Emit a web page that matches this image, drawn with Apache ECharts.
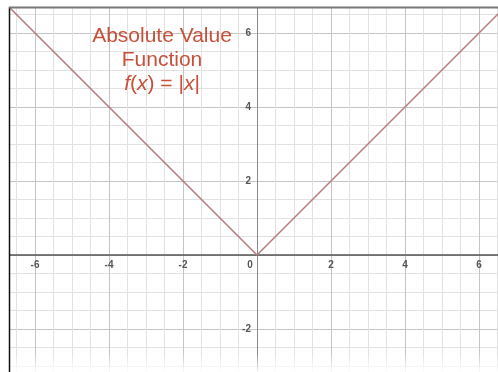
<!DOCTYPE html>
<html>
  <head>
    <meta charset="utf-8">
    <title>Absolute Value Function</title>
    <style type="text/css">
    html,body{margin:0;padding:0;background:#fff;}
    #chart{width:498px;height:372px;}
    </style>
    <script src="https://cdn.jsdelivr.net/npm/echarts@6/dist/echarts.min.js"></script>
  </head>
  <body>
    <div id="chart"></div>
    <script type="text/javascript">
      // f(x) = |x| sampled at its corner and at both ends
      var xs = [-8, 0, 8];
      var ys = [8, 0, 8];
      var xTicks = [-6, -4, -2, 0, 2, 4, 6];
      var yTicks = [-2, 2, 4, 6];

      var points = [];
      for (var i = 0; i < xs.length; i++) {
        points.push([xs[i], ys[i]]);
      }

      var titleColor = '#c8503a';
      var labelColor = '#555';
      var myChart = echarts.init(document.getElementById('chart'));
      var option = {
        animation: false,
        title: {
          text: 'Absolute Value\nFunction\n{i|f}({i|x}) = |{i|x}|',
          left: 157,
          top: 19,
          textAlign: 'center',
          textStyle: {
            color: titleColor,
            fontSize: 21,
            lineHeight: 24,
            fontWeight: 'normal',
            fontFamily: 'Liberation Sans',
            rich: {
              i: {color: titleColor, fontSize: 21, lineHeight: 24, fontStyle: 'italic', fontFamily: 'Liberation Sans'}
            }
          }
        },
        grid: {left: -39, right: -55, top: -41, bottom: -31, containLabel: false, outerBoundsMode: 'none'},
        xAxis: {
          type: 'value',
          min: -8,
          max: 8,
          interval: 2,
          position: 'bottom',
          offset: -148,
          axisLine: {onZero: false, lineStyle: {color: '#555', width: 1.5}},
          axisTick: {show: false},
          axisLabel: {
            margin: 5,
            fontSize: 10,
            fontWeight: 'bold',
            color: labelColor,
            fontFamily: 'Liberation Sans',
            formatter: function (v) {
              if (v === 0) return '{z|0}';
              return xTicks.indexOf(v) >= 0 ? String(v) : '';
            },
            rich: {z: {fontSize: 10, fontWeight: 'bold', color: labelColor, padding: [0, 14, 0, 0]}}
          },
          splitLine: {lineStyle: {color: '#c4c4c4', width: 1}},
          minorTick: {show: false, splitNumber: 4},
          minorSplitLine: {show: true, lineStyle: {color: '#e2e2e2', width: 1}}
        },
        yAxis: {
          type: 'value',
          min: -4,
          max: 8,
          interval: 2,
          position: 'left',
          offset: -296,
          axisLine: {onZero: false, lineStyle: {color: '#888', width: 1}},
          axisTick: {show: false},
          axisLabel: {
            margin: 6,
            fontSize: 10,
            fontWeight: 'bold',
            color: labelColor,
            fontFamily: 'Liberation Sans',
            formatter: function (v) {
              return yTicks.indexOf(v) >= 0 ? String(v) : '';
            }
          },
          splitLine: {lineStyle: {color: '#c4c4c4', width: 1}},
          minorTick: {show: false, splitNumber: 4},
          minorSplitLine: {show: true, lineStyle: {color: '#e2e2e2', width: 1}}
        },
        series: [{
          type: 'line',
          data: points,
          symbol: 'none',
          lineStyle: {color: '#b87b7b', width: 1.5}
        }],
        graphic: [
          {type: 'rect', z: 100, shape: {x: 0, y: 0, width: 9, height: 372}, style: {fill: '#fff'}},
          {type: 'rect', z: 100, shape: {x: 0, y: 0, width: 498, height: 7}, style: {fill: '#fff'}},
          {type: 'rect', z: 99, shape: {x: 9, y: 352, width: 489, height: 20},
            style: {fill: new echarts.graphic.LinearGradient(0, 0, 0, 1, [
              {offset: 0, color: 'rgba(255,255,255,0)'},
              {offset: 1, color: 'rgba(255,255,255,0.9)'}
            ])}},
          {type: 'line', z: 101, shape: {x1: 9.5, y1: 7, x2: 9.5, y2: 372}, style: {stroke: '#111', lineWidth: 1.5}},
          {type: 'line', z: 101, shape: {x1: 9, y1: 7.5, x2: 498, y2: 7.5}, style: {stroke: '#777', lineWidth: 2}}
        ]
      };
      myChart.setOption(option);
    </script>
  </body>
</html>
